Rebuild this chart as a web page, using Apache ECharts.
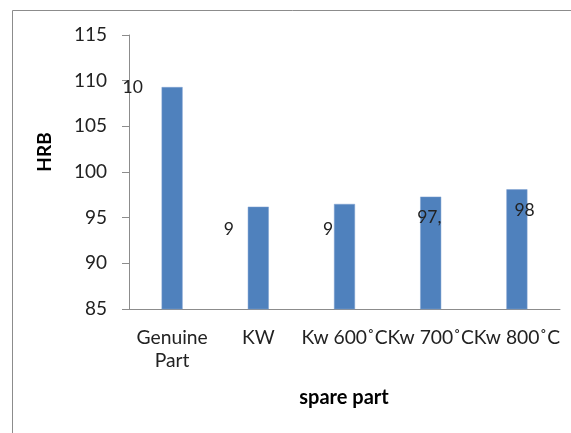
<!DOCTYPE html>
<html>
<head>
<meta charset="utf-8">
<script src="https://cdn.jsdelivr.net/npm/echarts@6/dist/echarts.min.js"></script>
<style>
html,body{margin:0;padding:0;background:#fff;}
#chart{width:571px;height:433px;}
</style>
</head>
<body>
<div id="chart"></div>
<script>
var categories = ['Genuine\nPart', 'KW', 'Kw 600˚C', 'Kw 700˚C', 'Kw 800˚C'];
var hrbValues = [109.3, 96.2, 96.5, 97.3, 98.1];
var labelTexts = ['10', '9', '9', '97,', '98'];
var yTicks = [85, 90, 95, 100, 105, 110, 115];

// styling: label offsets relative to each bar's top-left corner
var labelOffsets = [[-39, 0], [-24, 23], [-11, 25], [-3, 21], [8, 21]];

var chart = echarts.init(document.getElementById('chart'));
var FONT = 'Lato, "Liberation Sans", sans-serif';

var seriesData = hrbValues.map(function (v, i) {
  return {
    value: v,
    label: {
      show: true,
      position: labelOffsets[i],
      align: 'left',
      verticalAlign: 'middle',
      formatter: labelTexts[i],
      color: '#222',
      fontSize: 17.5,
      fontFamily: FONT
    }
  };
});

chart.setOption({
  animation: false,
  backgroundColor: '#fff',
  grid: { left: 129, right: 11, top: 35, bottom: 124, containLabel: false },
  graphic: [
    { type: 'rect', shape: { x: 12.5, y: 10.5, width: 700, height: 600 },
      style: { fill: 'none', stroke: '#8c8c8c', lineWidth: 1 }, silent: true },
    { type: 'text', x: 45, y: 152, rotation: Math.PI / 2,
      style: { text: 'HRB', font: 'bold 19px ' + FONT, fill: '#000', align: 'center', verticalAlign: 'middle' } },
    { type: 'text', x: 344, y: 398,
      style: { text: 'spare part', font: 'bold 20px ' + FONT, fill: '#000', align: 'center', verticalAlign: 'middle' } }
  ],
  xAxis: {
    type: 'category',
    data: categories,
    axisLine: { show: true, lineStyle: { color: '#8c8c8c', width: 1 } },
    axisTick: { show: false },
    axisLabel: { interval: 0, margin: 17, color: '#222', fontSize: 19.3, fontFamily: FONT, lineHeight: 23 }
  },
  yAxis: {
    type: 'value',
    min: yTicks[0],
    max: yTicks[yTicks.length - 1],
    interval: 5,
    splitLine: { show: false },
    axisLine: { show: true, lineStyle: { color: '#8c8c8c', width: 1 } },
    axisTick: { show: true, inside: false, length: 7, lineStyle: { color: '#8c8c8c' } },
    axisLabel: { margin: 22, color: '#222', fontSize: 19, fontFamily: FONT }
  },
  series: [{
    type: 'bar',
    data: seriesData,
    barWidth: 21,
    itemStyle: { color: '#4f81bd', borderColor: '#7ea1d0', borderWidth: 0.5 }
  }]
});
</script>
</body>
</html>
